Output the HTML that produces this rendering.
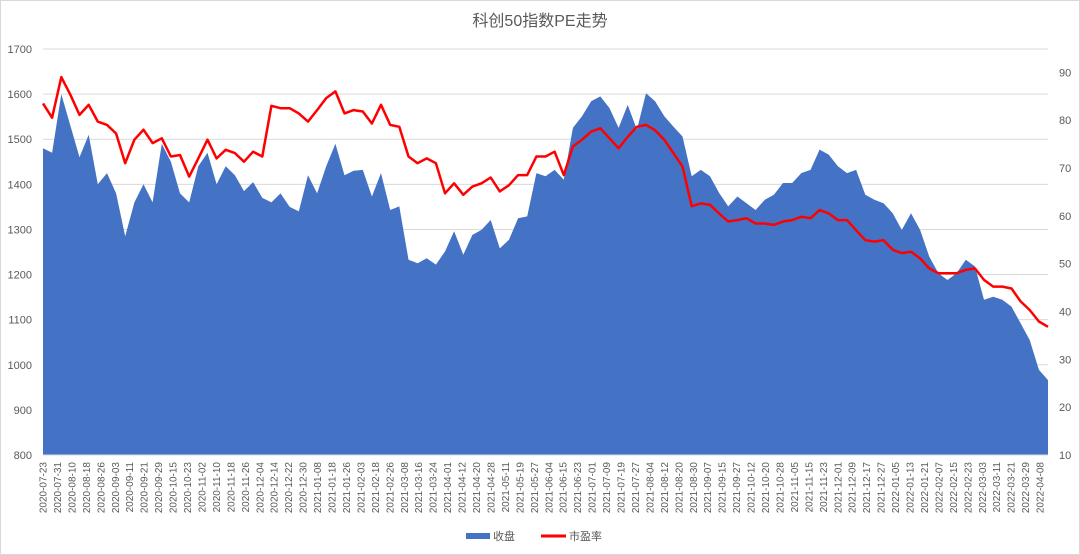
<!DOCTYPE html>
<html><head><meta charset="utf-8"><style>
html,body{margin:0;padding:0;background:#fff;}
#wrap{width:1080px;height:555px;position:relative;overflow:hidden;}
svg text{font-family:"Liberation Sans","Noto Sans CJK SC",sans-serif;}
</style></head><body>
<div id="wrap">
<svg id="chart" width="1080" height="555" xmlns="http://www.w3.org/2000/svg">
<rect x="0.5" y="0.5" width="1079" height="554" fill="#fff" stroke="#d9d9d9"/>
<text x="540" y="26" text-anchor="middle" font-size="16" fill="#595959">科创50指数PE走势</text>
<g id="grid"></g><g id="area"></g><g id="line"></g><g id="axes"></g>
<g>
<rect x="466" y="533" width="24" height="6" fill="#4472c4"/>
<text x="493" y="540" font-size="11" fill="#595959">收盘</text>
<line x1="541" y1="536" x2="566" y2="536" stroke="#ff0000" stroke-width="3"/>
<text x="569" y="540" font-size="11" fill="#595959">市盈率</text>
</g>
</svg></div>
<script>
const closeValues=[1480,1470,1600,1530,1460,1510,1400,1425,1380,1285,1360,1400,1360,1490,1450,1380,1360,1440,1470,1400,1440,1420,1385,1405,1370,1360,1380,1350,1340,1420,1380,1440,1490,1420,1430,
1432,1373,1425,1343,1351,1233,1225,1236,1222,1251,1296,1244,1288,1299,1321,1258,1277,1325,1329,1425,1418,1432,1410,1525,1551,1584,1595,1569,1525,1576,1521,1602,1584,1551,1528,1506,1418,1432,
1418,1381,1351,1373,1358,1343,1366,1377,1403,1403,1425,1432,1477,1466,1440,1425,1432,1377,1366,1358,1336,1299,1336,1299,1240,1203,1188,1203,1233,1218,1144,1151,1144,1129,1092,1055,989,966];
const peValues=[83.5,80.5,89.0,85.3,81.1,83.2,79.7,79.0,77.2,71.0,75.9,78.0,75.2,76.2,72.4,72.7,68.2,72.0,75.9,72.0,73.8,73.1,71.3,73.4,72.4,83.0,82.5,82.5,81.4,79.7,82.1,84.6,86.0,81.4,82.1,
81.8,79.3,83.2,79.0,78.6,72.4,71.0,72.0,71.0,64.7,66.8,64.4,66.1,66.8,68.0,65.1,66.4,68.5,68.5,72.4,72.4,73.4,68.5,74.5,75.9,77.6,78.3,76.2,74.1,76.5,78.6,79.0,77.9,75.9,73.1,70.3,62.0,62.6,
62.3,60.5,58.8,59.1,59.5,58.4,58.4,58.1,58.8,59.1,59.8,59.5,61.2,60.5,59.1,59.1,57.0,54.9,54.6,54.9,52.9,52.2,52.5,51.1,49.0,48.0,48.0,48.0,48.7,49.0,46.6,45.2,45.2,44.8,42.1,40.3,37.9,36.8];
const dateLabels=["2020-07-23","2020-07-31","2020-08-10","2020-08-18","2020-08-26","2020-09-03","2020-09-11","2020-09-21","2020-09-29","2020-10-15","2020-10-23","2020-11-02","2020-11-10","2020-11-18","2020-11-26","2020-12-04","2020-12-14","2020-12-22","2020-12-30","2021-01-08","2021-01-18","2021-01-26","2021-02-03","2021-02-18","2021-02-26","2021-03-08","2021-03-16","2021-03-24","2021-04-01","2021-04-12","2021-04-20","2021-04-28","2021-05-11","2021-05-19","2021-05-27","2021-06-04","2021-06-15","2021-06-23","2021-07-01","2021-07-09","2021-07-19","2021-07-27","2021-08-04","2021-08-12","2021-08-20","2021-08-30","2021-09-07","2021-09-15","2021-09-27","2021-10-12","2021-10-20","2021-10-28","2021-11-05","2021-11-15","2021-11-23","2021-12-01","2021-12-09","2021-12-17","2021-12-27","2022-01-05","2022-01-13","2022-01-21","2022-02-07","2022-02-15","2022-02-23","2022-03-03","2022-03-11","2022-03-21","2022-03-29","2022-04-08"];
const leftTicks=[800,900,1000,1100,1200,1300,1400,1500,1600,1700];
const rightTicks=[10,20,30,40,50,60,70,80,90];

const NS="http://www.w3.org/2000/svg";
const X0=43,X1=1048,YB=455;
function yL(v){return YB-(v-800)*(406/900);}
function yR(v){return YB-(v-10)*4.784;}
function xD(i){return X0+i*(X1-X0)/(closeValues.length-1);}
function xLab(k){return 43+k*14.45;}
function mk(tag,attrs,parent){const e=document.createElementNS(NS,tag);for(const k in attrs)e.setAttribute(k,attrs[k]);parent.appendChild(e);return e;}
const grid=document.getElementById('grid'),area=document.getElementById('area'),line=document.getElementById('line'),axes=document.getElementById('axes');
leftTicks.forEach(v=>{
  const g=mk('line',{x1:X0,x2:X1,y1:yL(v),y2:yL(v),stroke:'#d9d9d9','stroke-width':1},grid);
  
  
  const t=mk('text',{x:32,y:yL(v)+4,'text-anchor':'end','font-size':11,fill:'#595959'},axes);
  t.textContent=v;
  
  
});
rightTicks.forEach(v=>{
  const t=mk('text',{x:1059,y:yR(v)+4,'font-size':11,fill:'#595959'},axes);
  t.textContent=v;
  
  
});
let d='M'+xD(0)+','+YB;
closeValues.forEach((v,i)=>{d+=' L'+xD(i).toFixed(1)+','+yL(v).toFixed(1);});
d+=' L'+xD(closeValues.length-1)+','+YB+' Z';
const a=mk('path',{d:d,fill:'#4472c4'},area);


let p='';
peValues.forEach((v,i)=>{p+=(i?' L':'M')+xD(i).toFixed(1)+','+yR(v).toFixed(1);});
const l=mk('path',{d:p,fill:'none',stroke:'#ff0000','stroke-width':2.5,'stroke-linejoin':'round'},line);


mk('line',{x1:X0,x2:X1,y1:YB,y2:YB,stroke:'#d9d9d9'},axes);
dateLabels.forEach((s,k)=>{
  const x=xLab(k)+3.5;
  const t=mk('text',{x:x,y:462,'text-anchor':'end','font-size':10,fill:'#595959',transform:'rotate(-90 '+x+' 462)'},axes);
  t.textContent=s;
  
  
});
</script>
</body></html>
